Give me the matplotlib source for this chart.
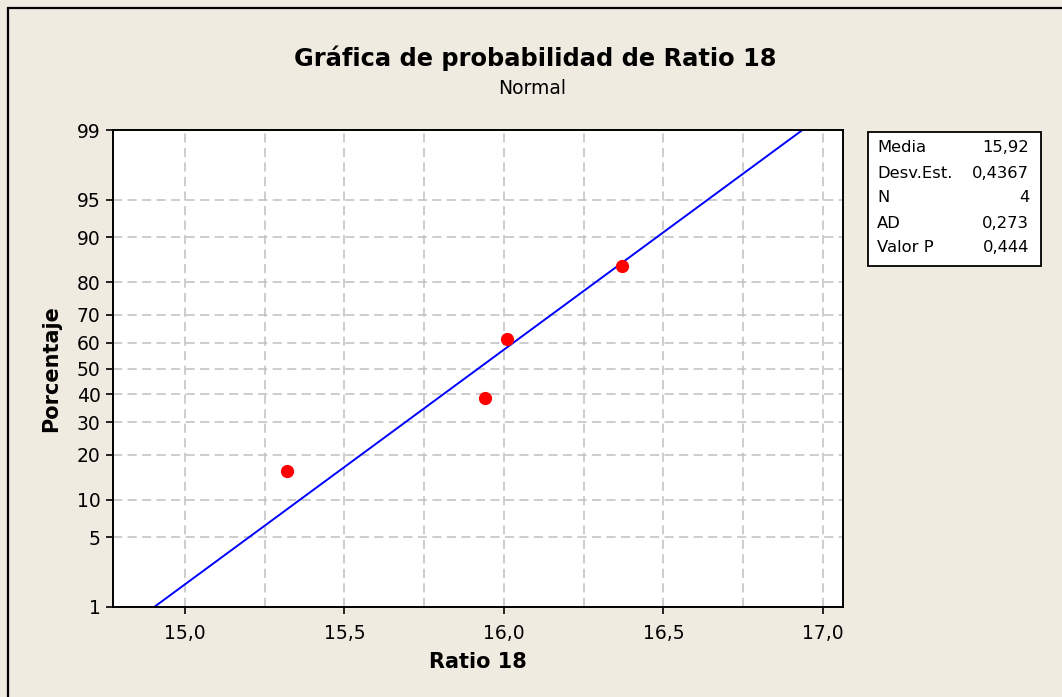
from statistics import NormalDist
import numpy as np
from matplotlib import pyplot as plt
from matplotlib.patches import Rectangle

# Datos de la grafica
ratio_18 = [15.32, 15.94, 16.01, 16.37]
porcentaje = [15.9, 38.6, 61.4, 84.1]
media = 15.92
desv_est = 0.4367
y_ticks = [1, 5, 10, 20, 30, 40, 50, 60, 70, 80, 90, 95, 99]
x_ticks = [15.0, 15.5, 16.0, 16.5, 17.0]
x_grid = [15.0, 15.25, 15.5, 15.75, 16.0, 16.25, 16.5, 16.75, 17.0]
stat_names = ["Media", "Desv.Est.", "N", "AD", "Valor P"]
stat_values = ["15,92", "0,4367", "4", "0,273", "0,444"]

nd = NormalDist()
bg = "#f0ebe1"
W, H = 1062, 697

fig = plt.figure(figsize=(W / 100, H / 100), dpi=100, facecolor=bg)
plt.rcParams['font.family'] = ['DejaVu Sans']

# Marco exterior
fig.patches.append(Rectangle((8 / W, -0.05), 1.2, 1 - 8 / H + 0.05, transform=fig.transFigure,
                             fill=False, edgecolor="black", linewidth=1.6))

ax = fig.add_axes([113 / W, (H - 607) / H, 730 / W, 477 / H])
ax.set_facecolor("white")

z_lo, z_hi = nd.inv_cdf(0.01), nd.inv_cdf(0.99)
ax.set_ylim(z_lo, z_hi)
ax.set_xlim(14.775, 17.063)

# Lineas de cuadricula
for xg in x_grid:
    ax.axvline(xg, color="#c0c0c0", lw=1.1, linestyle=(0, (6, 3.5)), zorder=1)
for yt in y_ticks[1:-1]:
    ax.axhline(nd.inv_cdf(yt / 100), color="#c0c0c0", lw=1.1, linestyle=(0, (6, 3.5)), zorder=1)

# Recta ajustada
z = np.array([z_lo, z_hi])
ax.plot(media + desv_est * z, z, color="#0000ff", lw=1.4, zorder=2)

# Puntos
ax.plot(ratio_18, [nd.inv_cdf(p / 100) for p in porcentaje], "o", color="#ff0000",
        markersize=8.5, zorder=3, linestyle="none")

ax.set_yticks([nd.inv_cdf(p / 100) for p in y_ticks])
ax.set_yticklabels([str(p) for p in y_ticks])
ax.set_xticks(x_ticks)
ax.set_xticklabels([f"{v:.1f}".replace(".", ",") for v in x_ticks])
ax.tick_params(direction="out", length=5, width=1.2, labelsize=13.5, color="black")
ax.tick_params(axis="x", pad=7)
ax.tick_params(axis="y", pad=4)
for s in ax.spines.values():
    s.set_linewidth(1.4)

ax.set_xlabel("Ratio 18", fontsize=15, fontweight="bold", labelpad=7)
ax.set_ylabel("Porcentaje", fontsize=15, fontweight="bold", labelpad=11)

fig.text(535 / W, 1 - 58 / H, "Gráfica de probabilidad de Ratio 18", fontsize=17.4,
         fontweight="bold", ha="center", va="center")
fig.text(532 / W, 1 - 88 / H, "Normal", fontsize=13.5, ha="center", va="center")

# Cuadro de estadisticas
fig.patches.append(Rectangle((868 / W, 1 - 266 / H), 173 / W, 134 / H, transform=fig.transFigure,
                             facecolor="white", edgecolor="black", linewidth=1.3))
for i, (n, v) in enumerate(zip(stat_names, stat_values)):
    yy = 1 - (148 + 25 * i) / H
    fig.text(877 / W, yy, n, fontsize=11.8, ha="left", va="center")
    fig.text(1029 / W, yy, v, fontsize=11.8, ha="right", va="center")

fig.savefig("out.png", dpi=100, facecolor=bg)
